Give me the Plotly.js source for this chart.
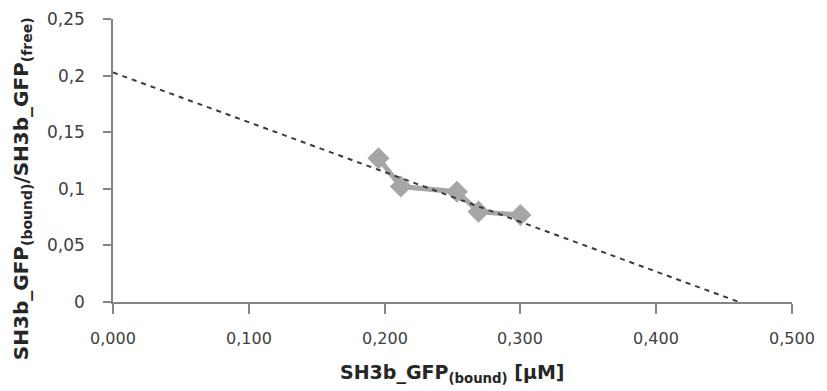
<!DOCTYPE html>
<html>
<head>
<meta charset="utf-8">
<script src="https://cdn.plot.ly/plotly-3.0.1.min.js"></script>
<style>html,body{margin:0;padding:0;background:#fff;}#chart{width:827px;height:391px;}</style>
</head>
<body>
<div id="chart"></div>
<script>
// Data
var boundX = [0.1955, 0.212, 0.2533, 0.2692, 0.300];
var ratioY = [0.127, 0.102, 0.0974, 0.0798, 0.0769];
var trendX = [0.0, 0.461];
var trendY = [0.2028, 0.0];
var xTickVals = [0, 0.1, 0.2, 0.3, 0.4, 0.5];
var xTickText = ["0,000", "0,100", "0,200", "0,300", "0,400", "0,500"];
var yTickVals = [0, 0.05, 0.1, 0.15, 0.2, 0.25];
var yTickText = ["0", "0,05", "0,1", "0,15", "0,2", "0,25"];
var xTitle = "SH3b_GFP<sub>(bound)</sub> [µM]";
var yTitle = "SH3b_GFP<sub>(bound)</sub>/SH3b_GFP<sub>(free)</sub>";

var xTickFont = {family: "DejaVu Sans", size: 16, color: "#404040"};
var yTickFont = {family: "DejaVu Sans", size: 17, color: "#404040"};
var titleFont = {family: "DejaVu Sans", size: 19, color: "#262626", weight: "bold"};
var yTitleFont = {family: "DejaVu Sans", size: 20, color: "#262626", weight: "bold"};

var traces = [
  {
    x: boundX, y: ratioY, type: "scatter", mode: "lines+markers",
    line: {color: "#a6a6a6", width: 5},
    marker: {symbol: "diamond", size: 17, color: "#a6a6a6"},
    hoverinfo: "none", cliponaxis: false
  },
  {
    x: trendX, y: trendY, type: "scatter", mode: "lines",
    line: {color: "#3a3a3a", width: 2, dash: "5px,5px"},
    hoverinfo: "none"
  }
];

var annotations = [];
xTickVals.forEach(function (v, i) {
  annotations.push({
    text: xTickText[i], showarrow: false, xref: "x", yref: "paper",
    x: v, y: 0, xanchor: "center", yanchor: "middle", yshift: -36,
    font: xTickFont
  });
});
yTickVals.forEach(function (v, i) {
  annotations.push({
    text: yTickText[i], showarrow: false, xref: "paper", yref: "y",
    x: 0, y: v, xanchor: "right", yanchor: "middle", xshift: -26,
    font: yTickFont
  });
});
annotations.push({
  text: xTitle, showarrow: false, xref: "paper", yref: "paper",
  x: 0.5, y: 0, xanchor: "center", yanchor: "middle", yshift: -71,
  font: titleFont
});
annotations.push({
  text: yTitle, textangle: -90, showarrow: false,
  xref: "paper", yref: "paper",
  x: -0.135, y: 0.40, xanchor: "center", yanchor: "middle",
  font: yTitleFont
});

var layout = {
  width: 827, height: 391,
  margin: {l: 113, r: 35, t: 19, b: 89},
  paper_bgcolor: "#ffffff", plot_bgcolor: "#ffffff",
  showlegend: false,
  xaxis: {
    range: [0, 0.5], tickmode: "array", tickvals: xTickVals, ticktext: xTickText, showticklabels: false,
    showgrid: false, zeroline: false, showline: true,
    linecolor: "#868686", linewidth: 2,
    ticks: "outside", ticklen: 10, tickwidth: 2, tickcolor: "#868686"
  },
  yaxis: {
    range: [0, 0.25], tickmode: "array", tickvals: yTickVals, ticktext: yTickText, showticklabels: false,
    showgrid: false, zeroline: false, showline: true,
    linecolor: "#868686", linewidth: 2,
    ticks: "outside", ticklen: 8, tickwidth: 2, tickcolor: "#868686"
  },
  annotations: annotations
};

Plotly.newPlot("chart", traces, layout, {staticPlot: true, displayModeBar: false});
</script>
</body>
</html>
